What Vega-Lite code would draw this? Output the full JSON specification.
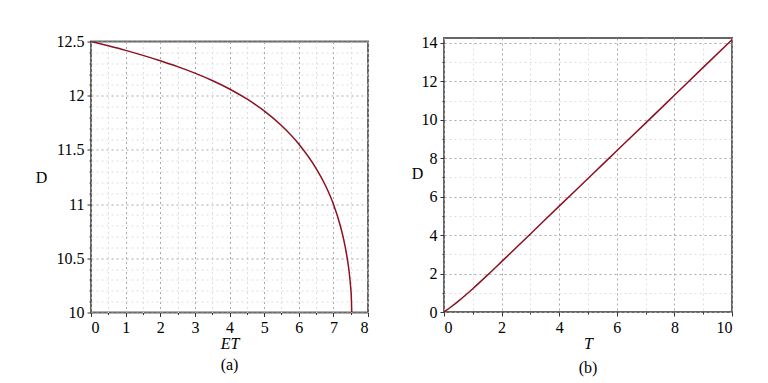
{
  "$schema": "https://vega.github.io/schema/vega-lite/v6.json",
  "padding": {"left": 34, "top": 32, "right": 5, "bottom": 5},
  "background": "white",
  "datasets": {
    "a": [
      {"ET": 0, "D": 12.5},
      {"ET": 0.5, "D": 12.46},
      {"ET": 1, "D": 12.418},
      {"ET": 1.5, "D": 12.372},
      {"ET": 2, "D": 12.322},
      {"ET": 2.5, "D": 12.268},
      {"ET": 3, "D": 12.208},
      {"ET": 3.5, "D": 12.14},
      {"ET": 4, "D": 12.062},
      {"ET": 4.5, "D": 11.97},
      {"ET": 5, "D": 11.86},
      {"ET": 5.5, "D": 11.725},
      {"ET": 6, "D": 11.555},
      {"ET": 6.5, "D": 11.33},
      {"ET": 6.75, "D": 11.185},
      {"ET": 7, "D": 11.0},
      {"ET": 7.2, "D": 10.8},
      {"ET": 7.3, "D": 10.67},
      {"ET": 7.4, "D": 10.5},
      {"ET": 7.45, "D": 10.39},
      {"ET": 7.5, "D": 10.23},
      {"ET": 7.52, "D": 10.13},
      {"ET": 7.53, "D": 10.0}
    ],
    "b": [
      {"T": 0, "D": 0},
      {"T": 0.25, "D": 0.274},
      {"T": 0.5, "D": 0.57},
      {"T": 1, "D": 1.213},
      {"T": 1.5, "D": 1.904},
      {"T": 2, "D": 2.62},
      {"T": 3, "D": 4.06},
      {"T": 4, "D": 5.51},
      {"T": 5, "D": 6.95},
      {"T": 6, "D": 8.39},
      {"T": 7, "D": 9.83},
      {"T": 8, "D": 11.28},
      {"T": 9, "D": 12.73},
      {"T": 10, "D": 14.17}
    ]
  },
  "spacing": 40,
  "center": true,
  "hconcat": [
    {
      "width": 277,
      "height": 271,
      "data": {"name": "a"},
      "mark": {"type": "line", "color": "#8b1020", "strokeWidth": 1.5, "interpolate": "monotone", "clip": true},
      "encoding": {
        "x": {
          "field": "ET", "type": "quantitative",
          "scale": {"domain": [0, 8], "nice": false, "zero": false},
          "axis": {
            "title": "ET", "titleFontStyle": "italic", "titlePadding": 0,
            "values": [0, 0.5, 1, 1.5, 2, 2.5, 3, 3.5, 4, 4.5, 5, 5.5, 6, 6.5, 7, 7.5, 8],
            "labelExpr": "abs(datum.value - round(datum.value)) < 0.001 ? format(datum.value, '~g') : ''",
            "gridColor": {"condition": {"test": "abs(datum.value - round(datum.value)) < 0.001", "value": "#a8a8a8"}, "value": "#dedede"},
            "tickSize": {"condition": {"test": "abs(datum.value - round(datum.value)) < 0.001", "value": 4}, "value": 2}
          }
        },
        "y": {
          "field": "D", "type": "quantitative",
          "scale": {"domain": [10, 12.5], "nice": false, "zero": false},
          "axis": {
            "title": "D", "titleAngle": 0, "titleX": -50, "titleY": 136, "titleAlign": "center", "titleBaseline": "middle",
            "values": [10, 10.1, 10.2, 10.3, 10.4, 10.5, 10.6, 10.7, 10.8, 10.9, 11, 11.1, 11.2, 11.3, 11.4, 11.5, 11.6, 11.7, 11.8, 11.9, 12, 12.1, 12.2, 12.3, 12.4, 12.5],
            "labelExpr": "abs(datum.value*2 - round(datum.value*2)) < 0.001 ? format(datum.value, '~g') : ''",
            "gridColor": {"condition": {"test": "abs(datum.value*2 - round(datum.value*2)) < 0.001", "value": "#a8a8a8"}, "value": "#dedede"},
            "tickSize": {"condition": {"test": "abs(datum.value*2 - round(datum.value*2)) < 0.001", "value": 4}, "value": 2}
          }
        }
      },
      "title": {"text": "(a)", "orient": "bottom", "offset": 5}
    },
    {
      "width": 288,
      "height": 274,
      "data": {"name": "b"},
      "mark": {"type": "line", "color": "#8b1020", "strokeWidth": 1.5, "interpolate": "monotone", "clip": true},
      "encoding": {
        "x": {
          "field": "T", "type": "quantitative",
          "scale": {"domain": [0, 10], "nice": false, "zero": false},
          "axis": {
            "title": "T", "titleFontStyle": "italic", "titlePadding": 0,
            "values": [0, 1, 2, 3, 4, 5, 6, 7, 8, 9, 10],
            "labelExpr": "datum.value % 2 === 0 ? datum.label : ''",
            "gridColor": {"condition": {"test": "datum.value % 2 === 0", "value": "#a8a8a8"}, "value": "#dedede"},
            "tickSize": {"condition": {"test": "datum.value % 2 === 0", "value": 4}, "value": 2}
          }
        },
        "y": {
          "field": "D", "type": "quantitative",
          "scale": {"domain": [0, 14.26], "nice": false, "zero": false},
          "axis": {
            "title": "D", "titleAngle": 0, "titleX": -27, "titleY": 135, "titleAlign": "center", "titleBaseline": "middle",
            "values": [0, 1, 2, 3, 4, 5, 6, 7, 8, 9, 10, 11, 12, 13, 14],
            "labelExpr": "datum.value % 2 === 0 ? datum.label : ''",
            "gridColor": {"condition": {"test": "datum.value % 2 === 0", "value": "#a8a8a8"}, "value": "#dedede"},
            "tickSize": {"condition": {"test": "datum.value % 2 === 0", "value": 4}, "value": 2}
          }
        }
      },
      "title": {"text": "(b)", "orient": "bottom", "offset": 9}
    }
  ],
  "config": {
    "view": {"stroke": "#666666", "strokeWidth": 2},
    "axis": {
      "domain": false,
      "labelFont": "Liberation Serif", "labelFontSize": 16, "labelColor": "#000",
      "titleFont": "Liberation Serif", "titleFontSize": 16, "titleFontWeight": "normal", "titleColor": "#000",
      "tickColor": "#333", "labelPadding": 3,
      "gridDash": [2, 3], "gridWidth": 1
    },
    "title": {"font": "Liberation Serif", "fontSize": 16, "fontWeight": "normal", "color": "#000"}
  }
}
